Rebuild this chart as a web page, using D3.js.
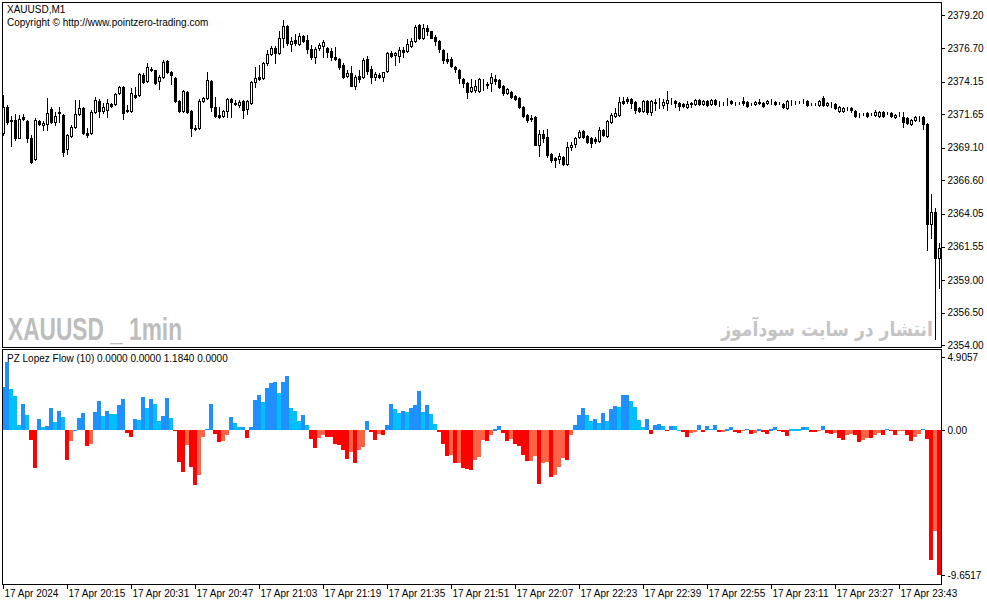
<!DOCTYPE html>
<html>
<head>
<meta charset="utf-8">
<script src="https://cdn.jsdelivr.net/npm/d3@7"></script>
<style>
  body { margin: 0; background: #fff; }
  svg { display: block; }
  text { font-family: "Liberation Sans", Arial, sans-serif; }
</style>
</head>
<body>
<script>
const width = 987, height = 605;

// XAUUSD M1, 17 Apr 2024 19:59 .. 23:53 (one value per minute bar)
const opens = [
  2370.22,2372.21,2371.22,2371.22,2369.84,2371.45,2371.14,2369.84,2368.24,2371.14,
  2370.84,2370.91,2372.06,2371.06,2371.83,2371.60,2369.00,2369.99,2370.68,2371.68,
  2372.13,2370.22,2370.22,2371.83,2372.67,2371.90,2371.98,2372.44,2372.44,2373.28,
  2373.74,2371.98,2371.90,2373.13,2373.13,2374.65,2374.20,2375.11,2375.03,2374.20,
  2374.50,2375.72,2374.88,2374.42,2372.67,2371.90,2373.36,2371.90,2370.61,2370.61,
  2372.67,2372.90,2374.20,2372.21,2371.60,2371.52,2371.90,2372.82,2372.52,2372.36,
  2372.67,2372.06,2372.52,2374.12,2374.50,2374.42,2375.57,2376.26,2376.71,2376.33,
  2377.48,2378.39,2377.02,2377.33,2377.02,2377.63,2377.33,2376.64,2376.03,2376.71,
  2376.87,2376.71,2376.49,2376.03,2375.87,2375.42,2374.58,2374.81,2373.81,2374.58,
  2374.50,2375.87,2375.11,2374.50,2374.65,2374.50,2374.96,2376.33,2376.18,2376.10,
  2376.56,2376.49,2376.87,2377.25,2378.47,2377.48,2378.24,2378.01,2377.55,2377.25,
  2376.56,2375.87,2375.87,2375.26,2375.03,2374.35,2374.04,2373.43,2373.51,2373.43,
  2374.20,2373.97,2374.04,2374.35,2374.27,2373.81,2373.28,2373.36,2373.05,2372.90,
  2372.21,2371.60,2371.37,2371.45,2369.31,2370.15,2369.92,2368.62,2368.31,2368.24,
  2368.39,2367.86,2369.15,2369.38,2369.92,2370.38,2369.99,2369.84,2369.77,2369.61,
  2370.45,2369.99,2371.06,2371.52,2371.60,2372.67,2372.82,2372.82,2372.59,2372.13,
  2371.90,2372.67,2371.83,2372.52,2372.74,2372.36,2372.52,2372.67,2372.67,2372.52,
  2372.44,2372.21,2372.52,2372.44,2372.74,2372.44,2372.67,2372.44,2372.74,2372.52,
  2372.52,2372.67,2372.67,2372.52,2372.52,2372.67,2372.59,2372.44,2372.44,2372.59,
  2372.52,2372.52,2372.59,2372.59,2372.52,2372.44,2372.13,2372.59,2372.59,2372.59,
  2372.67,2372.67,2372.44,2372.44,2372.36,2372.90,2372.36,2372.44,2372.44,2371.90,
  2371.90,2372.13,2372.13,2371.90,2371.60,2371.68,2371.75,2371.68,2371.60,2371.52,
  2371.83,2371.75,2371.75,2371.45,2371.68,2371.45,2371.37,2370.91,2371.22,2371.37,
  2371.45,2370.91,2363.28,2364.19,2360.68
];
const highs = [
  2373.13,2372.36,2371.52,2371.68,2371.60,2371.68,2371.22,2370.07,2371.37,2371.22,
  2371.14,2372.90,2372.21,2371.83,2372.21,2371.68,2370.15,2370.84,2372.74,2372.74,
  2372.21,2370.61,2371.98,2372.97,2372.82,2372.52,2372.82,2372.52,2373.28,2373.81,
  2373.81,2372.36,2373.66,2373.74,2374.81,2374.81,2375.57,2375.26,2375.03,2374.65,
  2375.80,2375.80,2374.96,2374.50,2372.74,2373.51,2373.43,2371.98,2370.84,2372.82,
  2372.97,2374.88,2374.27,2372.97,2372.21,2371.98,2372.90,2372.90,2372.74,2372.74,
  2372.74,2372.74,2374.20,2375.26,2375.42,2375.65,2376.56,2376.87,2376.87,2378.01,
  2378.85,2378.47,2377.55,2377.78,2377.86,2377.71,2377.71,2376.94,2376.79,2377.10,
  2377.33,2376.79,2376.71,2376.79,2375.95,2375.57,2375.03,2375.34,2374.65,2375.03,
  2375.95,2376.10,2375.34,2374.88,2374.81,2374.88,2376.41,2376.49,2376.41,2376.79,
  2376.79,2377.40,2377.48,2378.47,2378.55,2378.55,2378.47,2378.01,2377.71,2377.33,
  2376.64,2376.33,2376.03,2375.34,2375.11,2374.42,2374.12,2374.35,2374.27,2374.42,
  2374.35,2374.12,2374.81,2374.65,2374.35,2373.89,2373.66,2373.43,2373.13,2372.97,
  2372.29,2371.68,2371.60,2371.52,2370.45,2370.45,2370.53,2368.70,2368.39,2368.70,
  2368.47,2369.54,2369.54,2369.92,2370.45,2370.45,2370.07,2369.92,2369.92,2370.68,
  2370.53,2371.22,2371.75,2372.13,2372.97,2372.97,2372.97,2372.90,2372.67,2372.21,
  2372.74,2372.74,2372.74,2372.82,2372.90,2372.82,2373.43,2372.90,2372.74,2372.59,
  2372.52,2372.67,2372.59,2372.82,2372.82,2372.74,2372.74,2372.82,2372.82,2372.67,
  2372.59,2372.90,2372.74,2372.59,2372.59,2372.97,2372.67,2372.52,2372.67,2372.82,
  2372.59,2372.74,2372.82,2372.67,2372.59,2372.52,2372.74,2372.74,2372.67,2372.67,
  2372.82,2372.74,2372.52,2372.52,2372.74,2373.05,2372.59,2372.59,2372.52,2372.29,
  2372.21,2372.21,2372.21,2371.98,2371.75,2371.75,2371.83,2371.75,2371.98,2371.90,
  2371.90,2371.83,2371.83,2371.68,2371.83,2371.83,2371.45,2371.29,2371.52,2371.52,
  2371.52,2370.99,2365.57,2364.50,2361.83
];
const lows = [
  2370.07,2370.91,2369.23,2369.69,2369.84,2371.22,2369.54,2367.93,2368.16,2370.84,
  2370.45,2370.45,2370.99,2370.84,2371.06,2368.47,2368.62,2369.92,2370.61,2371.60,
  2370.15,2369.92,2370.15,2371.75,2371.45,2371.75,2371.45,2372.21,2372.36,2373.20,
  2371.29,2371.83,2371.83,2372.90,2373.05,2374.04,2374.12,2374.96,2373.97,2373.58,
  2374.42,2374.81,2373.97,2372.59,2371.83,2371.83,2371.75,2369.99,2370.45,2370.53,
  2372.59,2372.82,2371.90,2371.45,2371.37,2371.45,2371.45,2371.45,2372.36,2372.21,
  2371.37,2371.68,2372.44,2373.74,2374.27,2374.35,2375.42,2376.18,2375.57,2376.26,
  2376.79,2376.94,2376.49,2376.94,2376.94,2377.17,2376.33,2375.87,2375.57,2376.56,
  2376.03,2376.03,2375.80,2375.80,2375.11,2374.42,2374.50,2373.81,2373.58,2374.12,
  2374.42,2374.73,2374.04,2374.27,2374.42,2374.20,2374.88,2376.03,2375.42,2375.65,
  2376.03,2376.41,2376.79,2377.17,2377.40,2377.40,2377.71,2377.48,2376.94,2376.41,
  2375.57,2375.57,2375.26,2374.88,2374.04,2373.74,2372.90,2373.36,2373.36,2373.36,
  2373.51,2373.66,2373.43,2373.97,2373.66,2373.13,2373.20,2372.90,2372.74,2372.13,
  2371.45,2371.06,2371.14,2369.31,2368.47,2369.54,2368.39,2368.01,2367.63,2367.93,
  2367.78,2367.78,2368.93,2369.15,2369.84,2369.84,2369.46,2369.15,2369.46,2369.54,
  2369.99,2369.92,2370.99,2371.45,2371.52,2372.44,2372.52,2372.13,2371.75,2371.83,
  2371.83,2371.68,2371.60,2371.98,2372.13,2372.13,2371.98,2372.44,2372.21,2371.98,
  2372.21,2372.13,2372.21,2372.36,2372.36,2372.36,2372.29,2372.36,2372.36,2372.29,
  2372.36,2372.36,2372.44,2372.36,2372.44,2372.36,2372.21,2372.36,2372.36,2372.44,
  2372.21,2372.44,2372.44,2372.36,2372.44,2372.13,2372.06,2372.36,2372.44,2372.52,
  2372.52,2372.29,2372.36,2372.36,2372.29,2372.29,2372.29,2372.21,2372.06,2371.83,
  2371.83,2371.98,2371.83,2371.45,2371.45,2371.60,2371.45,2371.60,2371.52,2371.45,
  2371.45,2371.68,2371.45,2371.37,2371.52,2370.68,2370.91,2370.84,2371.14,2371.14,
  2370.53,2361.29,2362.21,2354.49,2358.39
];
const closes = [
  2372.21,2371.06,2371.14,2369.84,2371.29,2371.29,2369.84,2368.01,2371.22,2370.91,
  2370.99,2371.75,2371.06,2371.52,2371.75,2368.77,2370.07,2370.68,2371.68,2372.13,
  2370.22,2370.07,2371.83,2372.74,2371.90,2372.21,2372.52,2372.29,2373.20,2373.74,
  2371.75,2371.90,2373.28,2372.97,2374.73,2374.12,2375.26,2375.03,2374.04,2374.50,
  2375.65,2374.88,2374.65,2372.67,2371.90,2373.43,2371.83,2370.61,2370.53,2372.67,
  2372.90,2374.27,2372.21,2371.52,2371.45,2371.90,2372.82,2372.59,2372.44,2372.59,
  2371.98,2372.67,2374.12,2374.42,2374.35,2375.57,2376.26,2376.71,2376.33,2377.48,
  2378.39,2377.10,2377.25,2377.10,2377.63,2377.25,2376.64,2376.03,2376.64,2376.94,
  2377.17,2376.41,2376.03,2375.87,2375.26,2374.50,2374.81,2373.81,2374.50,2374.35,
  2375.80,2374.96,2374.50,2374.73,2374.50,2374.88,2376.33,2376.10,2376.33,2376.56,
  2376.41,2377.02,2377.25,2378.32,2377.48,2378.24,2378.01,2377.48,2377.25,2376.64,
  2375.80,2375.72,2375.34,2375.11,2374.42,2374.04,2373.36,2373.74,2373.81,2374.35,
  2374.20,2373.89,2374.50,2374.20,2373.74,2373.28,2373.58,2372.97,2372.82,2372.21,
  2371.52,2371.22,2371.29,2369.31,2370.15,2369.84,2368.54,2368.16,2368.16,2368.47,
  2367.86,2369.15,2369.31,2369.84,2370.30,2369.92,2369.54,2369.46,2369.61,2370.45,
  2370.07,2371.14,2371.60,2371.75,2372.59,2372.52,2372.67,2372.52,2371.98,2371.90,
  2372.67,2371.83,2372.67,2372.59,2372.74,2372.59,2372.74,2372.67,2372.52,2372.29,
  2372.29,2372.44,2372.44,2372.74,2372.44,2372.67,2372.36,2372.74,2372.44,2372.52,
  2372.52,2372.67,2372.52,2372.52,2372.52,2372.52,2372.29,2372.44,2372.59,2372.52,
  2372.29,2372.67,2372.59,2372.44,2372.52,2372.21,2372.67,2372.59,2372.59,2372.59,
  2372.67,2372.36,2372.44,2372.44,2372.67,2372.36,2372.52,2372.44,2372.13,2372.21,
  2372.13,2372.13,2371.98,2371.52,2371.60,2371.68,2371.52,2371.68,2371.83,2371.83,
  2371.52,2371.75,2371.52,2371.60,2371.68,2371.06,2370.99,2371.22,2371.45,2371.37,
  2370.91,2363.28,2364.19,2360.68,2361.44
];

// PZ Lopez Flow (10) histogram, one value per bar
const flow = [
  2.88,4.56,2.75,2.28,0.34,1.74,1.01,-0.67,-2.55,0.74,
  0.20,0.27,1.47,0.54,1.27,0.87,-2.01,-0.74,-0.03,0.80,
  1.14,-1.07,-0.94,1.21,1.94,0.94,1.27,1.07,1.07,1.68,
  2.08,-0.20,-0.47,0.74,0.67,2.21,1.47,2.08,1.74,0.60,
  0.94,2.14,0.80,-0.07,-2.14,-2.82,-1.01,-2.48,-3.69,-3.02,
  -0.47,0.07,1.74,-0.27,-0.80,-0.74,-0.34,0.87,0.47,0.20,
  0.20,-0.54,0.20,2.01,2.35,1.88,2.82,3.15,3.22,2.48,
  3.22,3.62,1.47,1.27,0.60,1.01,0.34,-0.60,-1.21,-0.54,
  -0.34,-0.47,-0.47,-0.94,-1.01,-1.34,-1.94,-1.47,-2.21,-1.34,
  -1.14,0.60,-0.13,-0.67,-0.27,-0.34,0.34,1.74,1.41,1.14,
  1.27,1.21,1.47,1.68,2.61,1.21,1.68,1.07,0.40,-0.13,
  -0.94,-1.74,-1.68,-2.21,-2.21,-2.55,-2.61,-2.68,-2.01,-1.81,
  -0.67,-0.74,-0.34,0.13,0.27,-0.20,-0.74,-0.60,-0.94,-1.07,
  -1.68,-2.08,-2.08,-1.74,-3.62,-2.21,-2.14,-3.15,-3.02,-2.48,
  -1.88,-2.01,-0.34,0.34,1.01,1.47,1.01,0.60,0.74,0.47,
  1.14,0.60,1.41,1.61,1.54,2.35,2.35,1.94,1.54,0.67,
  0.20,0.74,-0.27,0.34,0.40,0.27,-0.07,0.27,0.27,-0.05,
  -0.13,-0.47,-0.20,-0.13,0.34,-0.13,0.27,0.07,0.34,-0.13,
  -0.13,0.13,0.20,-0.13,-0.20,-0.07,0.07,-0.27,-0.20,0.13,
  -0.13,-0.27,0.13,0.20,-0.07,-0.13,-0.40,0.13,0.13,0.13,
  0.20,0.20,-0.13,-0.13,-0.07,0.27,-0.20,-0.27,-0.20,-0.54,
  -0.67,-0.34,-0.27,-0.34,-0.80,-0.67,-0.54,-0.54,-0.34,-0.20,
  -0.34,0.07,-0.07,-0.34,-0.07,-0.07,-0.34,-0.74,-0.47,-0.27,
  0.07,-0.60,-8.65,-6.77,-9.65
];
// which indicator buffer each bar sits in: B up, L up weak, R down, S down weak
const flowBuffer = (
  "BBLLLBLRRB" + "LBBLBLRSBB" + "BRSBBLBLLB" + "BRRBLBLBLL" + "BBLRRRSRRS" +
  "SBBRRSSBLL" + "BRBBBLBBBL" + "BBLLLBLRRS" + "SRRRRRRSRS" + "SBRRSRBBLL" +
  "BLBBBLBLLR" + "RRSRSRRRSS" + "SRSBBRRSRR" + "RRSSRSSRSS" + "SRSBBBLLBL" +
  "BLBBLBBLLL" + "LBRBBLRBLL" + "RRSSBRBLBR" + "SBBRRSBRSB" + "RRBBRRRLLL" +
  "BLRRSBRRSR" + "RSSRRSSRSS" + "RBRRSSRRSS" + "BRRSR"
).split("");

const priceTicks = [2379.20, 2376.70, 2374.15, 2371.65, 2369.10, 2366.60, 2364.05, 2361.55, 2359.00, 2356.50, 2354.00];
const flowTicks = [4.9057, 0, -9.6517];
const flowTickLabels = ["4.9057", "0.00", "-9.6517"];
const timeLabels = ["17 Apr 2024", "17 Apr 20:15", "17 Apr 20:31", "17 Apr 20:47", "17 Apr 21:03",
  "17 Apr 21:19", "17 Apr 21:35", "17 Apr 21:51", "17 Apr 22:07", "17 Apr 22:23", "17 Apr 22:39",
  "17 Apr 22:55", "17 Apr 23:11", "17 Apr 23:27", "17 Apr 23:43"];
const timeIndex = timeLabels.map((d, i) => i * 16);

const bufferColor = { B: "#1E90FF", L: "#00BFFF", R: "#FF0000", S: "#FF6347" };

const svg = d3.select("body").append("svg")
    .attr("width", width)
    .attr("height", height)
    .attr("shape-rendering", "crispEdges");

const x = d3.scaleLinear().domain([0, opens.length - 1]).range([3.5, 939.5]);
const y = d3.scaleLinear().domain([2354.00, 2379.20]).range([345.4, 15.4]);
const yFlow = d3.scaleLinear().domain([-9.6517, 4.9057]).range([575, 357]);

svg.append("clipPath").attr("id", "mainClip")
  .append("rect").attr("x", 3).attr("y", 3).attr("width", 938).attr("height", 344);
svg.append("clipPath").attr("id", "flowClip")
  .append("rect").attr("x", 3).attr("y", 350).attr("width", 938).attr("height", 234);

// watermarks behind the candles
svg.append("text")
    .attr("x", 8).attr("y", 340)
    .attr("font-size", 32).attr("font-weight", "bold")
    .attr("textLength", 174).attr("lengthAdjust", "spacingAndGlyphs")
    .attr("fill", "#bdbdbd")
    .text("XAUUSD _ 1min");
svg.append("g")
    .attr("transform", "translate(827,336) scale(0.86,1)")
  .append("text")
    .attr("text-anchor", "middle")
    .style("font-family", "'DejaVu Sans', sans-serif")
    .attr("font-size", 20).attr("font-weight", "bold")
    .attr("fill", "#c4c4c4")
    .text("انتشار در سایت سودآموز");

// candles
const idx = d3.range(opens.length);
const candles = svg.append("g").attr("clip-path", "url(#mainClip)");
candles.selectAll("line")
  .data(idx)
  .enter()
  .append("line")
    .attr("x1", i => x(i)).attr("x2", i => x(i))
    .attr("y1", i => Math.round(y(highs[i]))).attr("y2", i => Math.round(y(lows[i])) + 1)
    .attr("stroke", "#000");
candles.selectAll("rect")
  .data(idx)
  .enter()
  .append("rect")
    .attr("x", i => x(i) - 1)
    .attr("y", i => Math.round(y(Math.max(opens[i], closes[i]))) + 0.5)
    .attr("width", 2)
    .attr("height", i => Math.round(y(Math.min(opens[i], closes[i]))) - Math.round(y(Math.max(opens[i], closes[i]))))
    .attr("fill", i => closes[i] >= opens[i] ? "#fff" : "#000")
    .attr("stroke", "#000");

// flow histogram
svg.append("g").attr("clip-path", "url(#flowClip)")
  .selectAll("rect")
  .data(idx)
  .enter()
  .append("rect")
    .attr("x", i => x(i) - 2.5)
    .attr("width", 4)
    .attr("y", i => Math.round(Math.min(yFlow(flow[i]), yFlow(0))))
    .attr("height", i => Math.max(1, Math.round(Math.abs(yFlow(flow[i]) - yFlow(0)))))
    .attr("fill", i => bufferColor[flowBuffer[i]]);

// panel frames
svg.append("rect").attr("x", 2.5).attr("y", 2.5).attr("width", 939).attr("height", 345)
    .attr("fill", "none").attr("stroke", "#000");
svg.append("rect").attr("x", 2.5).attr("y", 349.5).attr("width", 939).attr("height", 235)
    .attr("fill", "none").attr("stroke", "#000");

// axes
const priceAxis = svg.append("g")
    .attr("transform", "translate(941.5,0)")
    .call(d3.axisRight(y).tickValues(priceTicks).tickSize(3).tickFormat(d => d.toFixed(2)));
const flowAxis = svg.append("g")
    .attr("transform", "translate(941.5,0)")
    .call(d3.axisRight(yFlow).tickValues(flowTicks).tickSize(3).tickFormat((d, i) => flowTickLabels[i]));
const timeAxis = svg.append("g")
    .attr("transform", "translate(-0.5,584.5)")
    .call(d3.axisBottom(x).tickValues(timeIndex).tickSize(4).tickFormat((d, i) => timeLabels[i]));

[priceAxis, flowAxis, timeAxis].forEach(g => {
  g.select(".domain").remove();
  g.selectAll("text").attr("font-size", 10).attr("fill", "#000")
    .style("font-family", "'Liberation Sans', Arial, sans-serif");
  g.selectAll("line").attr("stroke", "#000");
});
timeAxis.selectAll("text").attr("text-anchor", "start").attr("x", 1).attr("y", 5);

// labels
svg.append("text").attr("x", 7).attr("y", 13).attr("font-size", 10).text("XAUUSD,M1");
svg.append("text").attr("x", 7).attr("y", 26).attr("font-size", 10)
    .text("Copyright © http://www.pointzero-trading.com");
svg.append("text").attr("x", 7).attr("y", 362).attr("font-size", 10)
    .text("PZ Lopez Flow (10) 0.0000 0.0000 1.1840 0.0000");
</script>
</body>
</html>
